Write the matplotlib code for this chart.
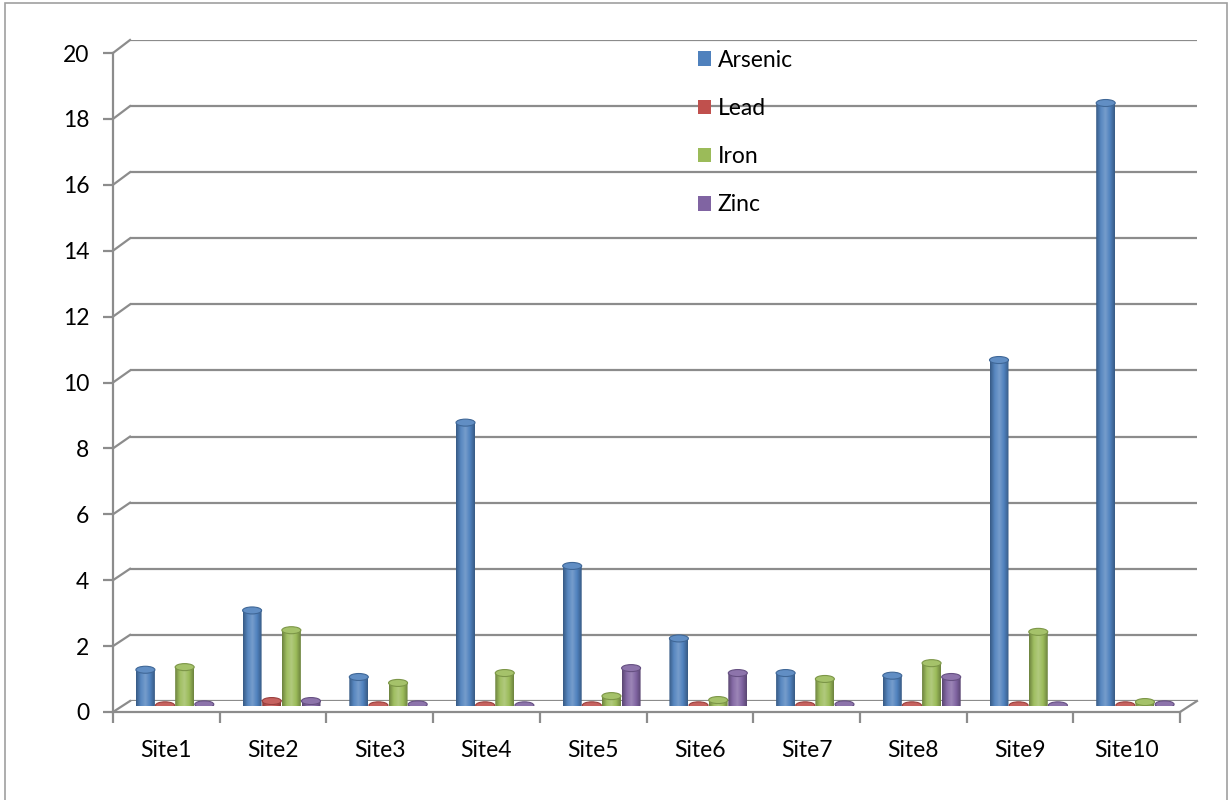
import numpy as np
import matplotlib
matplotlib.use("Agg")
import matplotlib.pyplot as plt
import matplotlib.colors as mcolors
from matplotlib.patches import Ellipse, PathPatch, Rectangle, Patch
from matplotlib.path import Path
from matplotlib.lines import Line2D

sites = ["Site1", "Site2", "Site3", "Site4", "Site5",
         "Site6", "Site7", "Site8", "Site9", "Site10"]
arsenic = [1.1, 2.9, 0.88, 8.6, 4.25, 2.05, 1.0, 0.92, 10.5, 18.3]
lead = [0.02, 0.15, 0.02, 0.02, 0.02, 0.02, 0.02, 0.02, 0.02, 0.02]
iron = [1.18, 2.3, 0.7, 1.0, 0.3, 0.18, 0.82, 1.3, 2.25, 0.12]
zinc = [0.05, 0.15, 0.05, 0.02, 1.15, 1.0, 0.05, 0.88, 0.02, 0.05]

series = [("Arsenic", arsenic), ("Lead", lead), ("Iron", iron), ("Zinc", zinc)]
colors = ["#4F81BD", "#C0504D", "#9BBB59", "#8064A2"]
grid_col = "#8C8C8C"

plt.rcParams["font.family"] = ["Lato", "DejaVu Sans"]
FS = 16.5

W, H = 1231, 800
fig = plt.figure(figsize=(W / 100, H / 100), dpi=100)


def box(left, top, right, bottom):
    # pixel box -> figure fraction rect
    return [left / W, 1 - bottom / H, (right - left) / W, (bottom - top) / H]


# back wall (gridlines)
ax_back = fig.add_axes(box(130, 40, 1197, 701))
ax_back.set_xlim(0, 10)
ax_back.set_ylim(0, 20)
ax_back.set_yticks(np.arange(0, 21, 2))
ax_back.set_xticks([])
ax_back.grid(axis="y", color=grid_col, lw=1.6)
ax_back.tick_params(left=False, labelleft=False)
for s in ax_back.spines.values():
    s.set_visible(False)
ax_back.patch.set_alpha(0)

# front frame (axis lines and labels)
ax_front = fig.add_axes(box(113, 53, 1180, 712))
ax_front.set_xlim(0, 10)
ax_front.set_ylim(0, 20)
ax_front.set_yticks(np.arange(0, 21, 2))
ax_front.set_xticks(np.arange(0, 11))
ax_front.set_xticklabels([])
ax_front.set_xticks(np.arange(10) + 0.5, minor=True)
ax_front.set_xticklabels(sites, minor=True)
ax_front.tick_params(axis="y", length=7, width=1.6, color=grid_col,
                     labelsize=FS, pad=10)
ax_front.tick_params(axis="x", which="major", length=8, width=1.6,
                     color=grid_col)
ax_front.tick_params(axis="x", which="minor", length=0, labelsize=FS, pad=20)
for name, s in ax_front.spines.items():
    if name in ("left", "bottom"):
        s.set_color(grid_col)
        s.set_linewidth(1.6)
    else:
        s.set_visible(False)
ax_front.patch.set_alpha(0)

# bars at mid depth
ax_bar = fig.add_axes(box(121.5, 47, 1188.5, 706))
ax_bar.set_xlim(0, 10)
ax_bar.set_ylim(0, 20)
ax_bar.axis("off")

fig.canvas.draw()

# diagonal connectors between front axis and back wall
inv = fig.transFigure.inverted()
for y in np.arange(0, 21, 2):
    p0 = inv.transform(ax_front.transData.transform((0, y)))
    p1 = inv.transform(ax_back.transData.transform((0, y)))
    fig.add_artist(Line2D([p0[0], p1[0]], [p0[1], p1[1]], color=grid_col,
                          lw=1.6, transform=fig.transFigure))
p0 = inv.transform(ax_front.transData.transform((10, 0)))
p1 = inv.transform(ax_back.transData.transform((10, 0)))
fig.add_artist(Line2D([p0[0], p1[0]], [p0[1], p1[1]], color=grid_col,
                      lw=1.6, transform=fig.transFigure))


def shade(c, f):
    r = np.array(mcolors.to_rgb(c))
    if f >= 0:
        return r + (1 - r) * f
    return r * (1 + f)


bw = 0.178
step = 0.184
eh = 7 / 32.95  # ellipse height in data units

for i, ((name, vals), col) in enumerate(zip(series, colors)):
    xs = np.arange(len(sites)) + 0.5 + (i - 1.5) * step
    stops = [shade(col, -0.3), shade(col, 0.05), shade(col, 0.22),
             shade(col, 0.0), shade(col, -0.3)]
    cmap = mcolors.LinearSegmentedColormap.from_list(name, stops)
    grad = np.linspace(0, 1, 64).reshape(1, -1)
    for x, v in zip(xs, vals):
        x0, x1 = x - bw / 2, x + bw / 2
        t = np.linspace(0, np.pi, 30)
        arc_x = x + bw / 2 * np.cos(t)
        arc_y = -eh / 2 * np.sin(t)
        verts = [(x0, 0), (x0, v), (x1, v)] + list(zip(arc_x, arc_y))
        path = Path(verts + [verts[0]])
        patch = PathPatch(path, facecolor="none", edgecolor="none")
        ax_bar.add_patch(patch)
        im = ax_bar.imshow(grad, cmap=cmap, aspect="auto",
                           extent=[x0, x1, -eh / 2, v], zorder=2)
        im.set_clip_path(patch)
        ax_bar.add_patch(Ellipse((x, v), bw, eh, facecolor=shade(col, 0.1),
                                 edgecolor=shade(col, -0.2), lw=0.8, zorder=3))

ax_bar.set_xlim(0, 10)
ax_bar.set_ylim(0, 20)

# legend
handles = [Patch(facecolor=c, edgecolor="none") for c in colors]
fig.legend(handles, [n for n, _ in series], loc="upper left",
           bbox_to_anchor=(677 / W, 1 - 29 / H), frameon=False,
           fontsize=FS, handlelength=0.6, handleheight=0.6,
           handletextpad=0.28, labelspacing=1.19)

# chart border
fig.add_artist(Rectangle((5 / W, -0.01), (1227 - 5) / W, 1 - 3 / H + 0.01,
                         transform=fig.transFigure, fill=False,
                         edgecolor="#A0A0A0", lw=1.2))

fig.savefig("out.png", dpi=100)
